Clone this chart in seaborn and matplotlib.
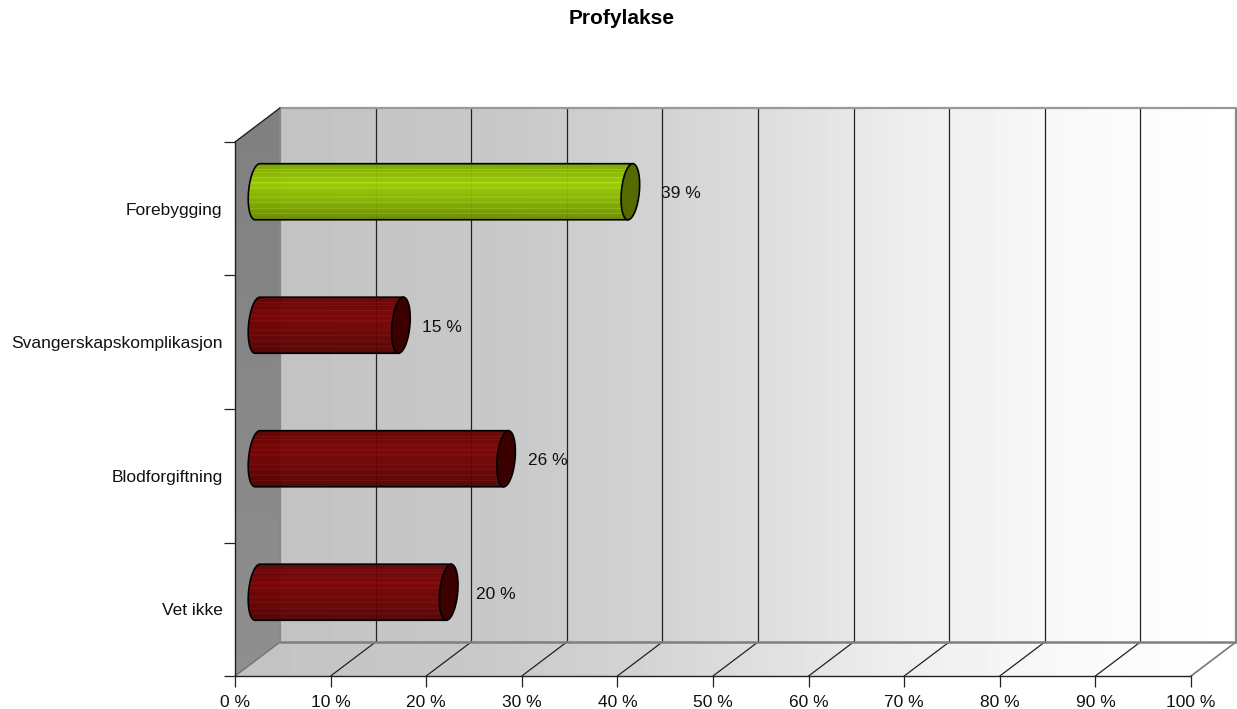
import numpy as np
import pandas as pd
import matplotlib
matplotlib.use('Agg')
import matplotlib.pyplot as plt
import seaborn as sns
from matplotlib.patches import Polygon

categories = ['Forebygging', 'Svangerskapskomplikasjon', 'Blodforgiftning', 'Vet ikke']
values = [39, 15, 26, 20]
value_labels = ['39 %', '15 %', '26 %', '20 %']
bar_colors = ['#99cc00', '#780000', '#780000', '#780000']
cap_colors = ['#556b00', '#3d0000', '#3d0000', '#3d0000']
x_ticks = [0, 10, 20, 30, 40, 50, 60, 70, 80, 90, 100]
x_tick_labels = ['0 %', '10 %', '20 %', '30 %', '40 %', '50 %', '60 %', '70 %', '80 %', '90 %', '100 %']

sns.set_theme(style='white')
plt.rcParams['font.family'] = ['Liberation Sans', 'DejaVu Sans']

W, H = 1237, 709
FS = 12.5
fig = plt.figure(figsize=(W / 100, H / 100), dpi=100, facecolor='white')
ax = fig.add_axes([235 / W, 1 - 676 / H, 956 / W, 534 / H])

df = pd.DataFrame({'cat': categories, 'val': values})
BAR_H = 0.42
sns.barplot(data=df, y='cat', x='val', hue='cat', palette=bar_colors, order=categories,
            legend=False, width=BAR_H, ax=ax, zorder=5)

# fake 3d depth, in data units
DX, DY = 4.71, 0.255
top, bot = -0.5, 3.5
btop, bbot = top - DY, bot - DY


def hex_rgb(c):
    return np.array(matplotlib.colors.to_rgb(c))


# back wall, grey to white
grad = np.interp(np.linspace(0, 1, 256), [0, 0.23, 0.39, 0.54, 0.65, 0.8, 1],
                 [0.765, 0.785, 0.825, 0.88, 0.93, 0.97, 1.0]).reshape(1, -1)
ax.imshow(grad, cmap='gray', vmin=0, vmax=1, aspect='auto', extent=(DX, 100 + DX, bbot, btop),
          clip_on=False, zorder=0)

# floor
floor = ax.imshow(grad, cmap='gray', vmin=0, vmax=1, aspect='auto', extent=(0, 100 + DX, bot, bbot),
                  zorder=0)
floor_poly = Polygon([(0, bot), (100, bot), (100 + DX, bbot), (DX, bbot)], closed=True,
                     transform=ax.transData, fc='none', ec='none', clip_on=False)
ax.add_patch(floor_poly)
floor.set_clip_box(fig.bbox)
floor.set_clip_path(floor_poly)

# left wall
left = ax.imshow(np.linspace(0.5, 0.56, 64).reshape(-1, 1), cmap='gray', vmin=0, vmax=1, aspect='auto',
                 extent=(0, DX, bot, btop), zorder=1)
left_poly = Polygon([(0, top), (DX, btop), (DX, bbot), (0, bot)], closed=True, transform=ax.transData,
                    fc='none', ec='none', clip_on=False)
ax.add_patch(left_poly)
left.set_clip_box(fig.bbox)
left.set_clip_path(left_poly)

# grid on wall and floor
for t in x_ticks:
    edge = '#777777' if t in (0, 100) else '#222222'
    ax.plot([t, t + DX], [bot, bbot], color=edge, lw=1.2 if t in (0, 100) else 0.9, clip_on=False, zorder=2)
    ax.plot([t + DX, t + DX], [bbot, btop], color='#888888' if t in (0, 100) else '#222222',
            lw=1.6 if t in (0, 100) else 0.9, clip_on=False, zorder=2)
ax.plot([DX, 100 + DX], [btop, btop], color='#999999', lw=1.6, clip_on=False, zorder=2)
ax.plot([DX, 100 + DX], [bbot, bbot], color='#7f7f7f', lw=1.8, clip_on=False, zorder=2)
ax.plot([0, DX], [top, btop], color='#222222', lw=1, clip_on=False, zorder=3)

# cylinders
cap_w = 1.88
shear = 0.25
stripe_rows = [6, 9, 14, 19, 24, 33, 38, 44, 49]
ang = np.linspace(0, 2 * np.pi, 80)
for bar, val, col, cap in zip(ax.patches, values, bar_colors, cap_colors):
    y = bar.get_y() + bar.get_height() / 2 - DY / 2
    right = val + DX / 2
    start = DX / 2
    base = hex_rgb(col)
    shade = np.interp(np.linspace(0, 1, 56), [0, 0.08, 0.35, 0.7, 1], [0.8, 0.85, 1.0, 0.85, 0.68])
    rows = np.outer(shade, base)
    for r in stripe_rows:
        rows[r] = np.clip(rows[r] * 1.08 + 0.035, 0, 1)
    img = ax.imshow(rows[:, None, :], aspect='auto', alpha=0.95, zorder=6,
                    extent=(start - cap_w, right + cap_w, y + BAR_H / 2, y - BAR_H / 2))
    half = ang[(ang >= np.pi / 2) & (ang <= 3 * np.pi / 2)]
    pts = [(start + cap_w / 2 * np.cos(a) + shear * np.sin(a), y - BAR_H / 2 * np.sin(a)) for a in half]
    pts += [(right - shear, y + BAR_H / 2), (right + shear, y - BAR_H / 2)]
    outline = Polygon(pts, closed=True, fc='none', ec='black', lw=1.2, zorder=7, transform=ax.transData)
    ax.add_patch(outline)
    img.set_clip_path(outline)
    bar.set_alpha(0)
    cap_pts = [(right + cap_w / 2 * np.cos(a) + shear * np.sin(a), y - BAR_H / 2 * np.sin(a)) for a in ang]
    ax.add_patch(Polygon(cap_pts, closed=True, fc=cap, ec='black', lw=1.2, zorder=8))

# labels next to the cylinders
label_pad = [31, 21, 22, 27]
for val, cat, lab, pad in zip(values, categories, value_labels, label_pad):
    ax.annotate(lab, (val + DX / 2, categories.index(cat) - DY / 2), xytext=(pad * 0.72, -1.5),
                textcoords='offset points', va='center', ha='left', fontsize=FS, color='#111111',
                zorder=9, annotation_clip=False)

ax.set_xlim(0, 100)
ax.set_ylim(bot, top)
ax.set_xlabel('')
ax.set_ylabel('')
ax.set_xticks(x_ticks)
ax.set_xticklabels(x_tick_labels, fontsize=FS, color='#111111')
ax.set_yticks(np.arange(-0.5, 4, 1))
ax.set_yticklabels([])
ax.set_yticks(range(len(categories)), minor=True)
ax.set_yticklabels(categories, minor=True, fontsize=FS, color='#111111')
ax.tick_params(axis='x', which='major', length=8, width=0.9, color='#222222', pad=6, bottom=True)
ax.tick_params(axis='y', which='major', length=8, width=0.9, color='#222222', left=True)
ax.tick_params(axis='y', which='minor', length=0, pad=9, left=False)
for side in ['top', 'right']:
    ax.spines[side].set_visible(False)
for side in ['left', 'bottom']:
    ax.spines[side].set_color('#222222')
    ax.spines[side].set_linewidth(1)
    ax.spines[side].set_zorder(4)
ax.patch.set_alpha(0)

fig.text(622 / W, 1 - 18 / H, 'Profylakse', ha='center', va='center', fontsize=15, fontweight='bold', color='black')
fig.savefig('out.png', dpi=100)
